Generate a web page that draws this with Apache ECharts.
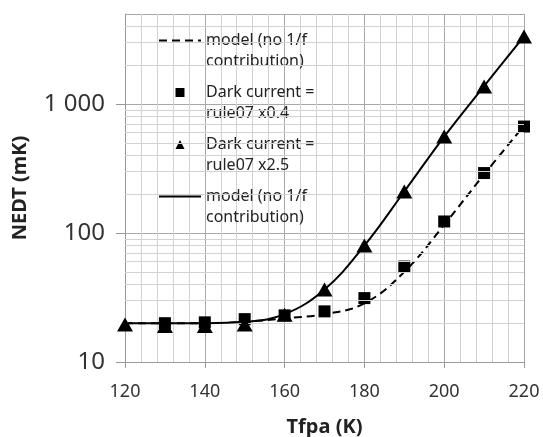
<!DOCTYPE html>
<html>
<head>
<meta charset="utf-8">
<script src="https://cdn.jsdelivr.net/npm/echarts@6/dist/echarts.min.js"></script>
<style>
  html, body { margin: 0; padding: 0; background: #fff; }
  #chart { width: 543px; height: 437px; }
</style>
</head>
<body>
<div id="chart"></div>
<script>
// temperatures (K)
const temps = [120, 130, 140, 150, 160, 170, 180, 190, 200, 210, 220];
const darkLowTemps = [130, 140, 150, 160, 170, 180, 190, 200, 210, 220];

// NEDT (mK)
const modelDashed = [20, 20, 20, 20.5, 21.8, 23.5, 28.5, 50, 116, 285, 680];
const darkLow = [20, 20.3, 21.5, 23, 24.7, 31.3, 55, 123, 292, 670];
const darkHigh = [19.5, 19, 19, 19.5, 23.3, 36.5, 80, 210, 560, 1370, 3350];
const modelSolid = [20, 20, 20, 20.5, 23.5, 36.5, 80, 210, 560, 1380, 3350];

// leading blank line keeps the icon level with the first text line
const names = [
  '\nmodel (no 1/f\ncontribution)',
  '\nDark current =\nrule07 x0.4',
  '\nDark current =\nrule07 x2.5',
  '\nmodel (no 1/f\ncontribution) '
];

// log minor gridlines
const yMinorGrid = [20, 30, 40, 50, 60, 70, 80, 90, 200, 300, 400, 500, 600, 700, 800, 900, 2000, 3000, 4000];

const font = 'Noto Sans';
const chart = echarts.init(document.getElementById('chart'));

const pairs = (xs, ys) => xs.map((x, i) => [x, ys[i]]);
const hideSymbol = { color: 'rgba(0,0,0,0)', opacity: 0, borderWidth: 0 };

const option = {
  animation: false,
  backgroundColor: '#fff',
  textStyle: { fontFamily: font },
  grid: { left: 125, right: 19, top: 14, bottom: 75, outerBoundsMode: 'none' },
  legend: {
    orient: 'vertical',
    left: 158,
    top: 9,
    padding: 0,
    itemGap: -11,
    itemWidth: 42,
    itemHeight: 9,
    symbolKeepAspect: true,
    data: [
      { name: names[0], itemStyle: hideSymbol },
      { name: names[1], icon: 'path://M0,0L10,0L10,10L0,10Z' },
      { name: names[2], icon: 'path://M5,0L10,10L0,10Z' },
      { name: names[3], itemStyle: hideSymbol }
    ],
    textStyle: {
      fontFamily: font,
      fontSize: 16,
      lineHeight: 21,
      color: '#222'
    }
  },
  xAxis: {
    type: 'value',
    min: 120,
    max: 220,
    interval: 20,
    name: 'Tfpa (K)',
    nameLocation: 'middle',
    nameGap: 55,
    nameTextStyle: { fontFamily: font, fontSize: 20, fontWeight: 'bold', color: '#222' },
    axisLine: { lineStyle: { color: '#999' } },
    axisTick: { show: true, length: 6, lineStyle: { color: '#999' } },
    axisLabel: { fontFamily: font, fontSize: 18, color: '#333', margin: 21 },
    splitLine: { show: true, lineStyle: { color: '#a8a8a8' } },
    minorTick: { show: false, splitNumber: 5 },
    minorSplitLine: { show: true, lineStyle: { color: '#d2d2d2' } }
  },
  yAxis: {
    type: 'log',
    logBase: 10,
    min: 10,
    max: 5000,
    name: 'NEDT (mK)',
    nameLocation: 'middle',
    nameGap: 95,
    nameTextStyle: { fontFamily: font, fontSize: 20, fontWeight: 'bold', color: '#222' },
    axisLine: { show: true, lineStyle: { color: '#999' } },
    axisTick: { show: true, length: 9, lineStyle: { color: '#999' } },
    axisLabel: {
      fontFamily: font,
      fontSize: 24,
      color: '#333',
      margin: 20,
      showMaxLabel: false,
      formatter: v => String(Math.round(v)).replace(/\B(?=(\d{3})+(?!\d))/g, ' ')
    },
    splitLine: { show: true, lineStyle: { color: '#a8a8a8' } }
  },
  series: [
    {
      name: 'grid',
      type: 'line',
      data: [],
      z: 1,
      silent: true,
      markLine: {
        silent: true,
        symbol: ['none', 'none'],
        label: { show: false },
        lineStyle: { color: '#d2d2d2', width: 1, type: 'solid' },
        emphasis: { disabled: true },
        data: yMinorGrid.map(v => ({ yAxis: v }))
      }
    },
    {
      name: names[0],
      type: 'line',
      smooth: 0.4,
      symbol: 'none',
      data: pairs(temps, modelDashed),
      lineStyle: { color: '#000', width: 2, type: [8, 5] },
      itemStyle: { color: '#000' },
      z: 3
    },
    {
      name: names[1],
      type: 'scatter',
      symbol: 'rect',
      symbolSize: 12,
      data: pairs(darkLowTemps, darkLow),
      itemStyle: { color: '#000', opacity: 1 },
      z: 4
    },
    {
      name: names[2],
      type: 'scatter',
      symbol: 'triangle',
      symbolSize: [16, 14],
      data: pairs(temps, darkHigh),
      itemStyle: { color: '#000', opacity: 1 },
      z: 5
    },
    {
      name: names[3],
      type: 'line',
      smooth: 0.4,
      symbol: 'none',
      data: pairs(temps, modelSolid),
      lineStyle: { color: '#000', width: 2 },
      itemStyle: { color: '#000' },
      z: 6
    }
  ]
};

chart.setOption(option);
</script>
</body>
</html>
